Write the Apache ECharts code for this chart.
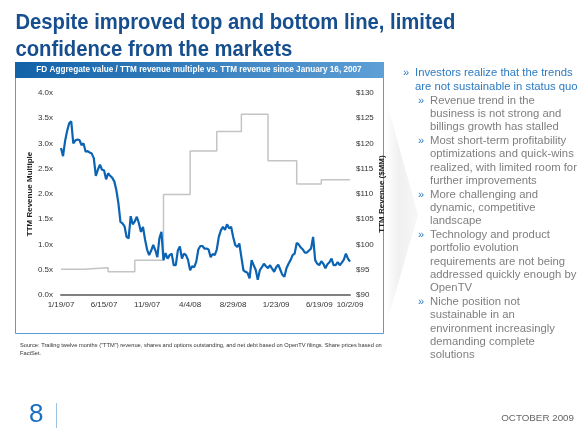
<!DOCTYPE html>
<html><head><meta charset="utf-8">
<script src="https://cdn.jsdelivr.net/npm/echarts@6/dist/echarts.min.js"></script>
<style>html,body{margin:0;padding:0;background:#fff}#c{width:587px;height:440px}</style>
</head><body><div id="c"></div>
<script>
// Weekly categories from 1/19/07 to 10/2/09
const weekCount = 142;
const startYear = 2007, startMonth = 0, startDay = 19;
const tickLabels = ['1/19/07','6/15/07','11/9/07','4/4/08','8/29/08','1/23/09','6/19/09','10/2/09'];
const categories = [];
for (let i = 0; i < weekCount; i++) {
  const d = new Date(startYear, startMonth, startDay + 7 * i);
  categories.push((d.getMonth() + 1) + '/' + d.getDate() + '/' + String(d.getFullYear()).slice(2));
}
// FD Aggregate value / TTM revenue multiple (weekly)
const multiple = [
  2.91,2.75,3.05,3.25,3.40,3.44,3.00,3.06,3.08,3.07,
  2.97,3.00,2.84,2.85,2.82,2.80,2.71,2.36,2.48,2.58,
  2.48,2.47,2.29,2.41,2.36,2.32,2.25,2.08,1.82,1.45,
  1.42,1.36,1.15,1.12,1.56,1.40,1.46,1.55,1.42,1.25,
  1.35,1.10,0.90,0.79,0.88,0.99,0.89,0.75,1.12,1.25,
  0.69,0.83,0.72,0.79,0.82,0.59,0.59,0.88,0.96,0.72,
  0.82,0.79,0.69,0.49,0.57,0.55,0.66,0.90,0.97,0.97,
  0.92,0.92,0.90,0.75,0.81,0.79,0.90,1.15,1.28,1.35,
  1.29,1.40,1.32,1.35,1.15,0.99,0.95,1.02,0.75,0.49,
  0.46,0.44,0.33,0.69,0.59,0.50,0.30,0.49,0.55,0.62,
  0.57,0.53,0.59,0.52,0.46,0.55,0.60,0.50,0.40,0.36,
  0.53,0.62,0.69,0.79,0.82,1.03,1.00,0.94,0.90,0.84,
  0.84,0.88,0.92,1.15,0.69,0.62,0.59,0.67,0.62,0.53,
  0.61,0.65,0.72,0.59,0.59,0.65,0.59,0.64,0.70,0.82,
  0.72,0.66
];
// TTM revenue ($MM) step changes: [week index, value]
const revenueWeeks = [0, 11, 23, 36, 50, 63, 76, 88, 101, 115, 127, 141];
const revenueValues = [95.1, 95.4, 94.6, 96.9, 109.9, 118.5, 122.4, 125.8, 116.6, 112.0, 112.8, 112.8];

const revenueData = revenueWeeks.map((w, i) => [w, revenueValues[i]]);
const lastIdx = weekCount - 1;
const multData = multiple.map((v, i) => i === lastIdx ? {
  value: v,
  label: {show: true, position: 'top', align: 'right', distance: 10, offset: [-2, 0],
    formatter: '0.6x', fontStyle: 'italic', fontSize: 8, color: '#555', fontFamily: 'Liberation Sans'}
} : v);
const revData = revenueData.map((p, i) => i === revenueData.length - 1 ? {
  value: p,
  label: {show: true, position: 'top', align: 'right', distance: 3, offset: [1, 0],
    formatter: '$112.9MM', fontStyle: 'italic', fontSize: 8, color: '#444', fontFamily: 'Liberation Sans'}
} : p);

const chart = echarts.init(document.getElementById('c'), null, {renderer: 'canvas'});
const F = 'Liberation Sans';
const blue = '#2b7bc4', gray = '#7f7f7f';
const bulletLines = [
  {t: 'Investors realize that the trends', lvl: 1, b: true, y: 73},
  {t: 'are not sustainable in status quo', lvl: 1, y: 87},
  {t: 'Revenue trend in the', lvl: 2, b: true, y: 101},
  {t: 'business is not strong and', lvl: 2, y: 114},
  {t: 'billings growth has stalled', lvl: 2, y: 127},
  {t: 'Most short-term profitability', lvl: 2, b: true, y: 141},
  {t: 'optimizations and quick-wins', lvl: 2, y: 154},
  {t: 'realized, with limited room for', lvl: 2, y: 168},
  {t: 'further improvements', lvl: 2, y: 181},
  {t: 'More challenging and', lvl: 2, b: true, y: 195},
  {t: 'dynamic, competitive', lvl: 2, y: 208},
  {t: 'landscape', lvl: 2, y: 221},
  {t: 'Technology and product', lvl: 2, b: true, y: 235},
  {t: 'portfolio evolution', lvl: 2, y: 248},
  {t: 'requirements are not being', lvl: 2, y: 262},
  {t: 'addressed quickly enough by', lvl: 2, y: 275},
  {t: 'OpenTV', lvl: 2, y: 288},
  {t: 'Niche position not', lvl: 2, b: true, y: 302},
  {t: 'sustainable in an', lvl: 2, y: 315},
  {t: 'environment increasingly', lvl: 2, y: 329},
  {t: 'demanding complete', lvl: 2, y: 342},
  {t: 'solutions', lvl: 2, y: 355}
];
const graphics = [
  {type: 'polygon', z: -1, shape: {points: [[386, 100], [418, 215], [386, 325]]},
   style: {fill: new echarts.graphic.LinearGradient(0, 0, 1, 0, [{offset: 0, color: '#ffffff'}, {offset: 0.4, color: '#f0f0f0'}, {offset: 1, color: '#f7f7f7'}])}},
  {type: 'text', x: 14, y: 11, scaleX: 0.9, originX: 14, style: {text: 'Despite improved top and bottom line, limited', font: 'bold 22.5px Liberation Sans', fill: '#174f8e'}},
  {type: 'text', x: 14, y: 38, scaleX: 0.9, originX: 14, style: {text: 'confidence from the markets', font: 'bold 22.5px Liberation Sans', fill: '#174f8e'}},
  {type: 'rect', shape: {x: 15.5, y: 62.5, width: 368, height: 271}, style: {fill: 'none', stroke: '#5b9bd5', lineWidth: 1}},
  {type: 'rect', shape: {x: 15, y: 62, width: 369, height: 16}, style: {fill: new echarts.graphic.LinearGradient(0, 0, 1, 0, [{offset: 0, color: '#1262a8'}, {offset: 1, color: '#5e9fd6'}])}},
  {type: 'text', x: 199, y: 70, style: {text: 'FD Aggregate value / TTM revenue multiple vs. TTM revenue since January 16, 2007', font: 'bold 8.2px Liberation Sans', fill: '#fff', textAlign: 'center', textVerticalAlign: 'middle'}},
  {type: 'text', x: 20, y: 342, style: {text: 'Source: Trailing twelve months ("TTM") revenue, shares and options outstanding, and net debt based on OpenTV filings. Share prices based on\nFactSet.', font: '5.7px Liberation Sans', fill: '#333', lineHeight: 7.5}},
  {type: 'text', x: 29, y: 402, style: {text: '8', font: '26px Liberation Sans', fill: '#1a6fc0'}},
  {type: 'line', shape: {x1: 56.5, y1: 403, x2: 56.5, y2: 428}, style: {stroke: '#9cc3e6', lineWidth: 1}},
  {type: 'text', x: 574, y: 418, style: {text: 'OCTOBER 2009', font: '9.8px Liberation Sans', fill: '#666', textAlign: 'right', textVerticalAlign: 'middle'}}
];
bulletLines.forEach(l => {
  const xText = l.lvl === 1 ? 415 : 430;
  if (l.b) graphics.push({type: 'text', x: xText - 12, y: l.y, style: {text: '»', font: '11px Liberation Sans', fill: '#2b7bc4', textVerticalAlign: 'middle'}});
  graphics.push({type: 'text', x: xText, y: l.y, style: {text: l.t, font: '11.3px Liberation Sans', fill: l.lvl === 1 ? blue : gray, textVerticalAlign: 'middle'}});
});

chart.setOption({
  animation: false,
  backgroundColor: '#fff',
  grid: {left: 61, right: 237, top: 93, bottom: 145},
  xAxis: {
    type: 'category', data: categories, boundaryGap: false,
    axisLine: {lineStyle: {color: '#808080', width: 2}},
    axisTick: {show: false},
    axisLabel: {interval: (i, v) => tickLabels.includes(v), fontSize: 8, color: '#333', fontFamily: F, margin: 6}
  },
  yAxis: [
    {type: 'value', min: 0, max: 4, interval: 0.5, splitLine: {show: false}, axisLine: {show: false}, axisTick: {show: false},
     axisLabel: {formatter: v => v.toFixed(1) + 'x', fontSize: 8, color: '#333', fontFamily: F, margin: 8},
     name: 'TTM Revenue Multiple', nameLocation: 'middle', nameRotate: 90, nameGap: 27,
     nameTextStyle: {fontSize: 8, fontWeight: 'bold', color: '#222', fontFamily: F}},
    {type: 'value', min: 90, max: 130, interval: 5, splitLine: {show: false}, axisLine: {show: false}, axisTick: {show: false},
     axisLabel: {formatter: v => '$' + v, fontSize: 8, color: '#333', fontFamily: F, margin: 6},
     name: 'TTM Revenue ($MM)', nameLocation: 'middle', nameRotate: 90, nameGap: 26,
     nameTextStyle: {fontSize: 8, fontWeight: 'bold', color: '#222', fontFamily: F}}
  ],
  series: [
    {type: 'line', yAxisIndex: 1, data: revData, step: 'end', symbol: 'none', lineStyle: {color: '#c4c4c4', width: 1.5}, z: 2},
    {type: 'line', yAxisIndex: 0, data: multData, symbol: 'none', lineStyle: {color: '#0b63b3', width: 2.2}, z: 3}
  ],
  graphic: graphics
});
</script></body></html>
